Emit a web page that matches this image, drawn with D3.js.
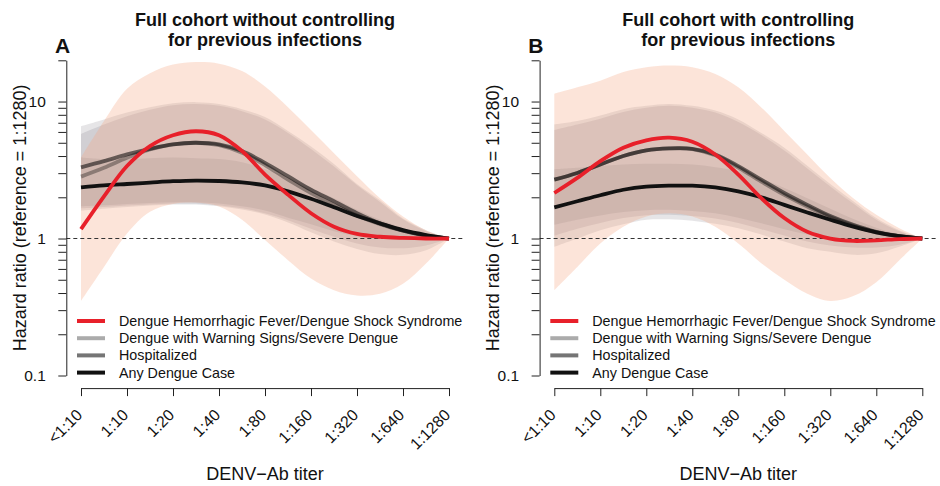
<!DOCTYPE html>
<html>
<head>
<meta charset="utf-8">
<script src="https://cdn.jsdelivr.net/npm/d3@7"></script>
<style>
  html, body { margin: 0; padding: 0; background: #fff; }
  svg { display: block; font-family: "Liberation Sans", Arial, Helvetica, sans-serif; }
</style>
</head>
<body>
<svg id="chart" width="940" height="486"></svg>
<script>
// ---------------- DATA ----------------
const titerLabels = ["<1:10", "1:10", "1:20", "1:40", "1:80", "1:160", "1:320", "1:640", "1:1280"];
// curve sample positions (titer index, half steps)
const samplePos = [0, 0.5, 1, 1.5, 2, 2.5, 3, 3.5, 4, 4.5, 5, 5.5, 6, 6.5, 7, 7.5, 8];

const seriesNames = [
  "Dengue Hemorrhagic Fever/Dengue Shock Syndrome",
  "Dengue with Warning Signs/Severe Dengue",
  "Hospitalized",
  "Any Dengue Case"
];
const panelLetters = ["A", "B"];
const panelTitles = [
  ["Full cohort without controlling", "for previous infections"],
  ["Full cohort with controlling", "for previous infections"]
];
const yTickValues = [0.1, 0.2, 0.3, 0.4, 0.5, 0.6, 0.7, 0.8, 0.9, 1, 2, 3, 4, 5, 6, 7, 8, 9, 10, 20];
const yTickLabels = ["0.1", "1", "10"];
const xTitle = "DENV\u2212Ab titer";
const yTitle = "Hazard ratio (reference = 1:1280)";

// Panel A : hazard ratio estimates
const dhfA  = [1.17, 2.03, 3.38, 4.73, 5.67, 6.07, 5.67, 4.35, 2.93, 2.09, 1.53, 1.22, 1.08, 1.03, 1.01, 1.0, 1.0];
const warnA = [2.83, 3.28, 3.88, 4.47, 4.87, 5.0, 4.8, 4.23, 3.44, 2.69, 2.15, 1.76, 1.47, 1.27, 1.14, 1.05, 1.0];
const hospA = [3.31, 3.67, 4.11, 4.52, 4.87, 5.0, 4.87, 4.35, 3.57, 2.85, 2.27, 1.87, 1.53, 1.29, 1.14, 1.05, 1.0];
const anyA  = [2.36, 2.44, 2.5, 2.56, 2.62, 2.65, 2.63, 2.57, 2.44, 2.21, 1.95, 1.69, 1.46, 1.29, 1.15, 1.06, 1.0];
// Panel A : confidence bands
const dhfUpA  = [3.9, 7.2, 12.4, 16.1, 18.6, 19.4, 18.9, 16.7, 12.9, 9.1, 6.2, 4.2, 2.85, 1.97, 1.45, 1.15, 1.0];
const dhfLoA  = [0.35, 0.62, 1.09, 1.57, 1.79, 1.83, 1.71, 1.37, 0.975, 0.695, 0.51, 0.42, 0.384, 0.395, 0.468, 0.657, 1.0];
const warnUpA = [6.6, 7.4, 8.3, 9.1, 9.7, 9.9, 9.6, 8.8, 7.7, 6.1, 4.7, 3.5, 2.5, 1.9, 1.4, 1.15, 1.0];
const warnLoA = [1.6, 1.65, 1.7, 1.74, 1.77, 1.77, 1.72, 1.63, 1.5, 1.31, 1.11, 0.95, 0.84, 0.77, 0.76, 0.82, 1.0];
const hospUpA = [5.8, 6.8, 7.8, 8.7, 9.4, 9.6, 9.3, 8.5, 7.4, 5.9, 4.5, 3.35, 2.45, 1.85, 1.38, 1.13, 1.0];
const hospLoA = [1.66, 1.7, 1.74, 1.77, 1.8, 1.8, 1.75, 1.66, 1.53, 1.36, 1.18, 1.03, 0.92, 0.86, 0.85, 0.89, 1.0];
const anyUpA  = [3.9, 3.8, 3.8, 3.85, 3.9, 3.85, 3.8, 3.6, 3.2, 2.8, 2.35, 1.97, 1.62, 1.37, 1.19, 1.06, 1.0];
const anyLoA  = [1.72, 1.75, 1.79, 1.82, 1.84, 1.84, 1.8, 1.72, 1.6, 1.42, 1.27, 1.13, 1.04, 1.0, 0.98, 0.98, 1.0];

// Panel B : hazard ratio estimates
const dhfB  = [2.15, 2.77, 3.67, 4.6, 5.21, 5.45, 5.09, 4.11, 2.93, 1.97, 1.41, 1.12, 1.0, 0.96, 0.97, 0.99, 1.0];
const warnB = [2.69, 3.01, 3.47, 4.0, 4.4, 4.55, 4.5, 4.05, 3.3, 2.6, 2.08, 1.71, 1.43, 1.24, 1.11, 1.04, 1.0];
const hospB = [2.69, 3.01, 3.47, 4.0, 4.4, 4.55, 4.52, 4.11, 3.38, 2.69, 2.15, 1.76, 1.46, 1.26, 1.12, 1.04, 1.0];
const anyB  = [1.69, 1.87, 2.07, 2.27, 2.39, 2.43, 2.43, 2.36, 2.21, 2.0, 1.76, 1.55, 1.37, 1.22, 1.11, 1.04, 1.0];
// Panel B : confidence bands
const dhfUpB  = [11.4, 12.7, 14.2, 16.4, 17.8, 18.3, 17.8, 15.9, 12.7, 9.06, 6.1, 4.11, 2.77, 1.97, 1.49, 1.19, 1.0];
const dhfLoB  = [0.42, 0.62, 0.92, 1.22, 1.45, 1.53, 1.45, 1.22, 0.92, 0.66, 0.5, 0.395, 0.35, 0.38, 0.48, 0.695, 1.0];
const warnUpB = [6.8, 7.2, 7.9, 8.8, 9.3, 9.6, 9.3, 8.6, 7.4, 5.9, 4.6, 3.4, 2.5, 1.87, 1.41, 1.15, 1.0];
const warnLoB = [0.87, 1.0, 1.15, 1.27, 1.37, 1.38, 1.35, 1.28, 1.19, 1.07, 0.95, 0.85, 0.8, 0.76, 0.78, 0.87, 1.0];
const hospUpB = [6.2, 6.8, 7.5, 8.4, 9.0, 9.3, 9.0, 8.3, 7.1, 5.7, 4.4, 3.25, 2.4, 1.8, 1.37, 1.13, 1.0];
const hospLoB = [1.05, 1.18, 1.3, 1.41, 1.48, 1.49, 1.46, 1.4, 1.3, 1.17, 1.05, 0.95, 0.89, 0.86, 0.86, 0.9, 1.0];
const anyUpB  = [3.2, 3.28, 3.38, 3.47, 3.51, 3.51, 3.47, 3.32, 3.1, 2.74, 2.34, 1.97, 1.65, 1.39, 1.2, 1.07, 1.0];
const anyLoB  = [1.26, 1.37, 1.47, 1.56, 1.61, 1.62, 1.59, 1.53, 1.42, 1.29, 1.17, 1.07, 1.01, 0.99, 0.975, 0.98, 1.0];

// ---------------- BUILD ----------------
const panelData = [
  { est: [dhfA, warnA, hospA, anyA],
    bands: { dhf: [dhfLoA, dhfUpA], warn: [warnLoA, warnUpA], hosp: [hospLoA, hospUpA], any: [anyLoA, anyUpA] } },
  { est: [dhfB, warnB, hospB, anyB],
    bands: { dhf: [dhfLoB, dhfUpB], warn: [warnLoB, warnUpB], hosp: [hospLoB, hospUpB], any: [anyLoB, anyUpB] } }
];

const lineColors = ["#e8202a", "rgba(0,0,0,0.33)", "rgba(0,0,0,0.54)", "#111111"];
const panelOffsets = [0, 473.3];

const svg = d3.select("#chart");
const y = d3.scaleLog().domain([0.1, 20]).range([375.5, 60.3]);
const regionTop = 47.7, regionBottom = 388.1;

panelData.forEach((pd, p) => {
  const off = panelOffsets[p];
  const g = svg.append("g").attr("transform", `translate(${off},0)`);
  const x = d3.scaleLinear().domain([0, 8]).range([81, 449]);
  const regionLeft = 66.3, regionRight = 463.7;

  const area = (lo, up) => d3.area()
    .x((d, i) => x(samplePos[i]))
    .y0((d, i) => y(lo[i]))
    .y1((d, i) => y(up[i]))
    .curve(d3.curveCatmullRom.alpha(0.5))(samplePos);

  // gray confidence bands
  ["warn", "hosp", "any"].forEach(k => {
    g.append("path")
      .attr("d", area(pd.bands[k][0], pd.bands[k][1]))
      .attr("fill", "rgb(104,100,108)")
      .attr("fill-opacity", 0.165);
  });
  // DHF/DSS band (peach) on top
  g.append("path")
    .attr("d", area(pd.bands.dhf[0], pd.bands.dhf[1]))
    .attr("fill", "#f4a582")
    .attr("fill-opacity", 0.3);

  // reference line at 1
  g.append("line")
    .attr("x1", regionLeft).attr("x2", regionRight)
    .attr("y1", y(1)).attr("y2", y(1))
    .attr("stroke", "#333").attr("stroke-width", 1.1)
    .attr("stroke-dasharray", "4,3");

  // estimate lines (light gray, dark gray, black, red on top)
  const line = d3.line()
    .x((d, i) => x(samplePos[i]))
    .y(d => y(d))
    .curve(d3.curveCatmullRom.alpha(0.5));
  [1, 2, 3, 0].forEach(s => {
    g.append("path")
      .attr("d", line(pd.est[s]))
      .attr("fill", "none")
      .attr("stroke", lineColors[s])
      .attr("stroke-width", 3.8)
      .attr("stroke-linecap", "butt");
  });

  // Y axis
  const yAxis = d3.axisLeft(y)
    .tickValues(yTickValues)
    .tickSize(8)
    .tickSizeOuter(0)
    .tickPadding(12)
    .tickFormat(d => yTickLabels.includes(String(d)) ? String(d) : "");
  const ya = g.append("g").attr("transform", `translate(${regionLeft},0)`).call(yAxis);
  ya.select(".domain").attr("stroke", "#222").attr("stroke-width", 1);
  ya.selectAll(".tick line").attr("stroke", "#222").attr("stroke-width", 1);
  ya.selectAll(".tick text")
    .attr("font-size", 15.5)
    .attr("font-family", "'Liberation Sans', Arial, sans-serif")
    .attr("fill", "#111")
    .attr("x", -20.5);

  // X axis
  const xAxis = d3.axisBottom(x)
    .tickValues(d3.range(titerLabels.length))
    .tickSize(8)
    .tickSizeOuter(0)
    .tickFormat(i => titerLabels[i]);
  const xa = g.append("g").attr("transform", `translate(0,${regionBottom})`).call(xAxis);
  xa.select(".domain").attr("stroke", "#222").attr("stroke-width", 1);
  xa.selectAll(".tick line").attr("stroke", "#222").attr("stroke-width", 1);
  xa.selectAll(".tick text")
    .attr("font-size", 16)
    .attr("font-family", "'Liberation Sans', Arial, sans-serif")
    .attr("fill", "#111")
    .attr("text-anchor", "end")
    .attr("dy", null)
    .attr("y", null)
    .attr("dominant-baseline", "central")
    .attr("transform", "translate(-2,24) rotate(-45)");

  // Titles
  const cx = x(4);
  g.append("text").attr("x", cx).attr("y", 26)
    .attr("text-anchor", "middle").attr("font-weight", "bold").attr("font-size", 18)
    .attr("fill", "#111").text(panelTitles[p][0]);
  g.append("text").attr("x", cx).attr("y", 46)
    .attr("text-anchor", "middle").attr("font-weight", "bold").attr("font-size", 18)
    .attr("fill", "#111").text(panelTitles[p][1]);
  g.append("text").attr("x", 55).attr("y", 53)
    .attr("font-weight", "bold").attr("font-size", 21)
    .attr("fill", "#111").text(panelLetters[p]);

  // Axis titles
  g.append("text").attr("x", cx).attr("y", 480)
    .attr("text-anchor", "middle").attr("font-size", 18)
    .attr("fill", "#111").text(xTitle);
  g.append("text")
    .attr("transform", `translate(26,${(regionTop + regionBottom) / 2}) rotate(-90)`)
    .attr("text-anchor", "middle").attr("font-size", 18)
    .attr("fill", "#111").text(yTitle);

  // Legend
  const lg = g.append("g");
  seriesNames.forEach((name, i) => {
    const ly = 321 + i * 17.2;
    lg.append("line").attr("x1", 77).attr("x2", 105).attr("y1", ly).attr("y2", ly)
      .attr("stroke", lineColors[i]).attr("stroke-width", 4);
    lg.append("text").attr("x", 119).attr("y", ly).attr("dominant-baseline", "central")
      .attr("font-size", 14.3).attr("fill", "#111").text(name);
  });
});
</script>
</body>
</html>
